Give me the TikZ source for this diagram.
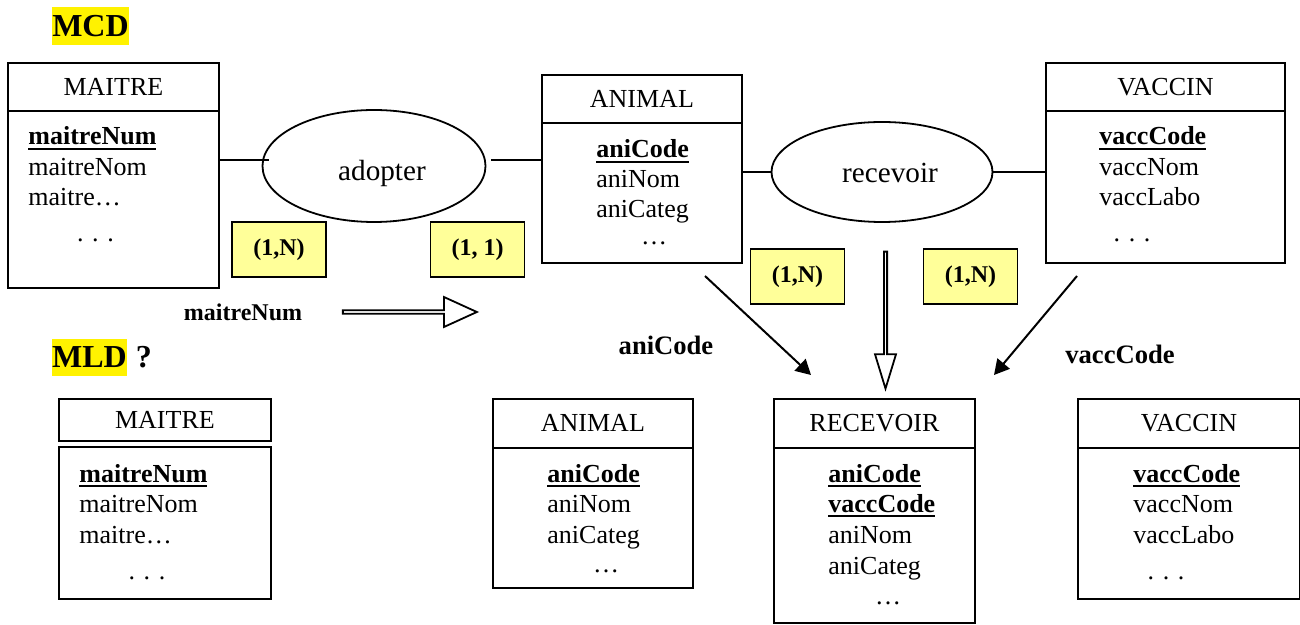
\documentclass[tikz,border=0pt]{standalone}
\usepackage{fontspec}
\setmainfont{Liberation Serif}
\usetikzlibrary{arrows.meta,%
                shapes,positioning}

\definecolor{jaunepale}{RGB}{255,255,153}
\newcommand{\idcle}[1]{\setbox0\hbox{\textbf{#1}}\rlap{\rule[-2.5pt]{\wd0}{1pt}}\box0}

\tikzset{
  entete/.style={draw, line width=0.9pt, anchor=north west, inner sep=0pt, font=\fontsize{13}{15}\selectfont},
  corps/.style={draw, line width=0.9pt, anchor=north west, inner sep=0pt},
  attr/.style={anchor=base west, inner sep=0pt, font=\fontsize{13}{15}\selectfont},
  etc/.style={anchor=base, inner sep=0pt, font=\fontsize{13}{15}\selectfont},
  assoc/.style={draw, ellipse, line width=0.9pt, inner sep=0pt},
  nomassoc/.style={inner sep=0pt, font=\fontsize{14.6}{17}\selectfont},
  card/.style={draw, fill=jaunepale, line width=0.9pt, minimum width=47pt, minimum height=27.5pt, inner sep=0pt, font=\fontsize{12}{14}\selectfont\bfseries},
  cle/.style={inner sep=0pt, font=\fontsize{12}{14}\selectfont\bfseries},
  titre/.style={fill=yellow, inner sep=0pt, font=\fontsize{16}{18}\selectfont\bfseries},
  lien/.style={line width=0.9pt},
  fleche/.style={line width=1pt, -{Triangle[length=7.5pt,width=8pt]}},
  creuse/.style={draw, single arrow, line width=0.9pt, inner sep=0pt}
}

\begin{document}
\begin{tikzpicture}[x=0.5pt,y=-0.5pt]
\useasboundingbox (0,0) rectangle (1300,625);

% MCD
\node[titre, minimum width=38.5pt, minimum height=19pt] (mcd) at (90.5,26) {MCD};

\node[entete, minimum width=105.5pt, minimum height=24pt] (maitreTete) at (7,62) {MAITRE};
\node[corps, minimum width=105.5pt, minimum height=88.5pt] (maitreCorps) at (7,110) {};
\node[attr] (maitreA) at (28,145) {\idcle{maitreNum}};
\node[attr] (maitreB) at (28,176) {maitreNom};
\node[attr] (maitreC) at (28,206) {maitre…};
\node[etc] (maitreD) at (95.5,242) {. . .};

\node[entete, minimum width=100pt, minimum height=24pt] (animalTete) at (541,74) {ANIMAL};
\node[corps, minimum width=100pt, minimum height=70pt] (animalCorps) at (541,122) {};
\node[attr] (animalA) at (596,158) {\idcle{aniCode}};
\node[attr] (animalB) at (596,188) {aniNom};
\node[attr] (animalC) at (596,218) {aniCateg};
\node[etc] (animalD) at (654,245) {…};

\node[entete, minimum width=119.5pt, minimum height=24pt] (vaccinTete) at (1045,62) {VACCIN};
\node[corps, minimum width=119.5pt, minimum height=76pt] (vaccinCorps) at (1045,110) {};
\node[attr] (vaccinA) at (1099,145) {\idcle{vaccCode}};
\node[attr] (vaccinB) at (1099,176) {vaccNom};
\node[attr] (vaccinC) at (1099,206) {vaccLabo};
\node[etc] (vaccinD) at (1132,242) {. . .};

\node[assoc, minimum width=111.5pt, minimum height=56pt] (adopter) at (374,166) {};
\node[nomassoc] (adopterNom) at ([xshift=4pt,yshift=-3.5pt]adopter.center) {adopter};
\node[assoc, minimum width=110.5pt, minimum height=50pt] (recevoir) at (882,172) {};
\node[nomassoc] (recevoirNom) at ([xshift=4pt,yshift=-0.5pt]recevoir.center) {recevoir};

\coordinate (adG) at ([yshift=3pt]adopter.west);
\coordinate (adD) at ([yshift=3pt]adopter.east);
\draw[lien] (maitreCorps.east |- adG) -- ([xshift=3.5pt]adG);
\draw[lien] ([xshift=2.5pt]adD) -- (adD -| animalCorps.west);
\draw[lien] (animalCorps.east |- recevoir.west) -- (recevoir.west);
\draw[lien] (recevoir.east) -- (recevoir.east -| vaccinCorps.west);

\node[card] (card1) at (279,249.5) {(1,N)};
\node[card] (card2) at (477.5,249.5) {(1, 1)};
\node[card] (card3) at (797.5,276.5) {(1,N)};
\node[card] (card4) at (970.5,276.5) {(1,N)};

% passage au MLD
\node[cle] (cleMaitre) at (243,312) {maitreNum};
\node[creuse, minimum height=67pt, minimum width=15pt, single arrow head extend=3.5pt, single arrow tip angle=49] (versAnimal) at (408,312) {};
\node[creuse, minimum height=68.5pt, minimum width=10.5pt, single arrow head extend=2.5pt, single arrow tip angle=34, rotate=-90] (versRecevoir) at (885.5,317.5) {};

\coordinate (depA) at (705,276);
\coordinate (finA) at (811,375);
\coordinate (depV) at (1077,276);
\coordinate (finV) at (994,375);
\draw[fleche] (depA) -- (finA);
\draw[fleche] (depV) -- (finV);
\node[cle, font=\fontsize{13.3}{15}\selectfont\bfseries] (cleAnimal) at (666,345) {aniCode};
\node[cle, font=\fontsize{13.3}{15}\selectfont\bfseries] (cleVaccin) at (1120,354) {vaccCode};

% MLD
\node[titre, minimum width=37.5pt, minimum height=18.5pt] (mld) at (89.5,357.5) {MLD};
\node[cle, font=\fontsize{16}{18}\selectfont\bfseries, right=4pt of mld] (question) {?};

\node[entete, minimum width=106pt, minimum height=21pt] (maitreTeteR) at (58,398) {MAITRE};
\node[corps, minimum width=106pt, minimum height=76pt] (maitreCorpsR) at (58,446) {};
\node[attr] (maitreRA) at (79,482) {\idcle{maitreNum}};
\node[attr] (maitreRB) at (79,512) {maitreNom};
\node[attr] (maitreRC) at (79,543) {maitre…};
\node[etc] (maitreRD) at (147,579) {. . .};

\node[entete, minimum width=100pt, minimum height=24.5pt] (animalTeteR) at (492,398) {ANIMAL};
\node[corps, minimum width=100pt, minimum height=70pt] (animalCorpsR) at (492,447) {};
\node[attr] (animalRA) at (547,482) {\idcle{aniCode}};
\node[attr] (animalRB) at (547,512) {aniNom};
\node[attr] (animalRC) at (547,543) {aniCateg};
\node[etc] (animalRD) at (606,572) {…};

\node[entete, minimum width=100.5pt, minimum height=24.5pt] (recevoirTete) at (773,398) {RECEVOIR};
\node[corps, minimum width=100.5pt, minimum height=87.5pt] (recevoirCorps) at (773,447) {};
\node[attr] (recevoirA) at (828,482) {\idcle{aniCode}};
\node[attr] (recevoirB) at (828,512) {\idcle{vaccCode}};
\node[attr] (recevoirC) at (828,543) {aniNom};
\node[attr] (recevoirD) at (828,574) {aniCateg};
\node[etc] (recevoirE) at (888,604) {…};

\node[entete, minimum width=111pt, minimum height=24.5pt] (vaccinTeteR) at (1077,398) {VACCIN};
\node[corps, minimum width=111pt, minimum height=75.5pt] (vaccinCorpsR) at (1077,447) {};
\node[attr] (vaccinRA) at (1133,482) {\idcle{vaccCode}};
\node[attr] (vaccinRB) at (1133,512) {vaccNom};
\node[attr] (vaccinRC) at (1133,543) {vaccLabo};
\node[etc] (vaccinRD) at (1166,579) {. . .};
\end{tikzpicture}
\end{document}
